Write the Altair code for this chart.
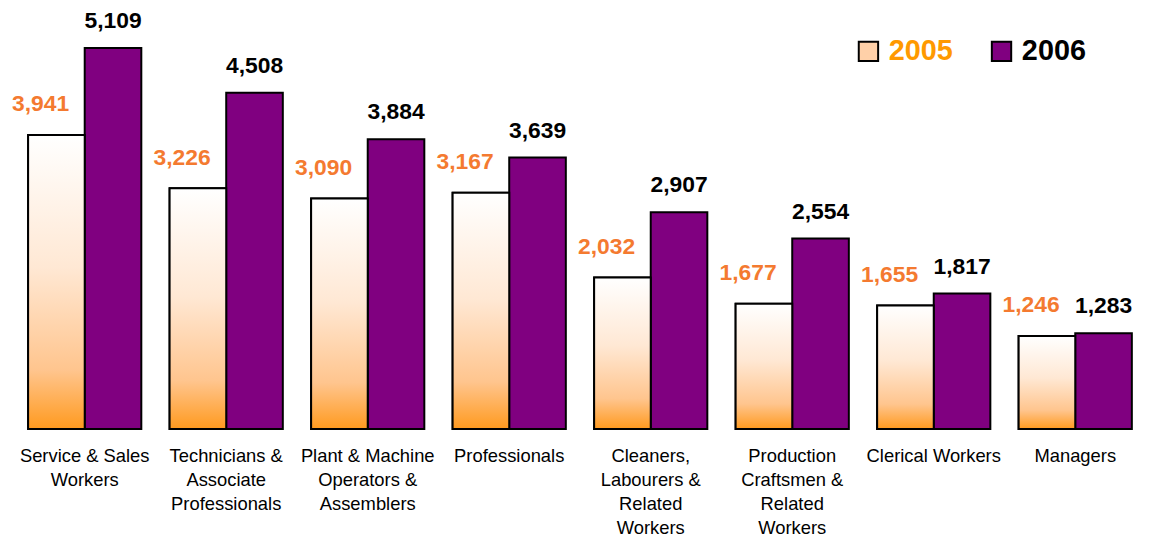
import altair as alt
import pandas as pd

categories = [
    "Service & Sales\nWorkers",
    "Technicians &\nAssociate\nProfessionals",
    "Plant & Machine\nOperators &\nAssemblers",
    "Professionals",
    "Cleaners,\nLabourers &\nRelated\nWorkers",
    "Production\nCraftsmen &\nRelated\nWorkers",
    "Clerical Workers",
    "Managers",
]
years = ["2005", "2006"]
values_2005 = [3941, 3226, 3090, 3167, 2032, 1677, 1655, 1246]
values_2006 = [5109, 4508, 3884, 3639, 2907, 2554, 1817, 1283]

rows = []
for c, v in zip(categories, values_2005):
    rows.append({"cat": c, "year": "2005", "value": v})
for c, v in zip(categories, values_2006):
    rows.append({"cat": c, "year": "2006", "value": v})
df = pd.DataFrame(rows)

FONT = "Liberation Sans"

x_enc = alt.X("cat:N", sort=categories, title=None,
              scale=alt.Scale(paddingInner=0.2, paddingOuter=0.1),
              axis=alt.Axis(labelAngle=0, labelFontSize=18.5, labelColor="black",
                            labelFont=FONT, labelLineHeight=24, labelPadding=18,
                            labelLimit=300, domain=False, ticks=False,
                            labelExpr="split(datum.label, '\\n')"))
xo_enc = alt.XOffset("year:N", sort=years, scale=alt.Scale(paddingInner=0, paddingOuter=0))
y_enc = alt.Y("value:Q", axis=None, scale=alt.Scale(domain=[0, 5620], nice=False, zero=True))

base = alt.Chart(df).encode(x=x_enc, xOffset=xo_enc, y=y_enc)

bars = base.mark_bar(stroke="black", strokeWidth=2).encode(
    fill=alt.Fill("year:N", sort=years,
                  scale=alt.Scale(domain=years, range=["#FFD0A8", "#800080"]),
                  legend=alt.Legend(title=None, orient="none", legendX=846, legendY=27,
                                    direction="horizontal", symbolType="square",
                                    symbolSize=380, symbolStrokeColor="black",
                                    symbolStrokeWidth=2, labelFontSize=29,
                                    labelFontWeight="bold", labelFont=FONT,
                                    labelColor=alt.ExprRef("datum.label == '2005' ? '#FF9900' : '#000000'"),
                                    columnPadding=34, labelOffset=6, padding=0))
)

grad = alt.Gradient(
    gradient="linear", x1=0, y1=0, x2=0, y2=1,
    stops=[alt.GradientStop(color="#FFFFFF", offset=0),
           alt.GradientStop(color="#FFE8D4", offset=0.45),
           alt.GradientStop(color="#FFC58E", offset=0.8),
           alt.GradientStop(color="#FF9A1F", offset=1)])

bars05 = base.transform_filter(alt.datum.year == "2005").mark_bar(
    fill=grad, stroke="black", strokeWidth=2)

lab05 = base.transform_filter(alt.datum.year == "2005").mark_text(
    baseline="middle", dy=-31, dx=-16, fontSize=23, fontWeight="bold",
    font=FONT, color="#F47A30").encode(text=alt.Text("value:Q", format=","))

lab06 = base.transform_filter(alt.datum.year == "2006").mark_text(
    baseline="middle", dy=-27, fontSize=23, fontWeight="bold",
    font=FONT, color="black").encode(text=alt.Text("value:Q", format=","))

chart = alt.layer(bars, bars05, lab05, lab06).properties(
    width=1140, height=422,
    padding={"left": 3, "top": 0, "right": 0, "bottom": 0},
).configure_view(stroke=None).configure_axis(grid=False)

chart.save("out.html", embed_options={"renderer": "svg", "actions": False})
